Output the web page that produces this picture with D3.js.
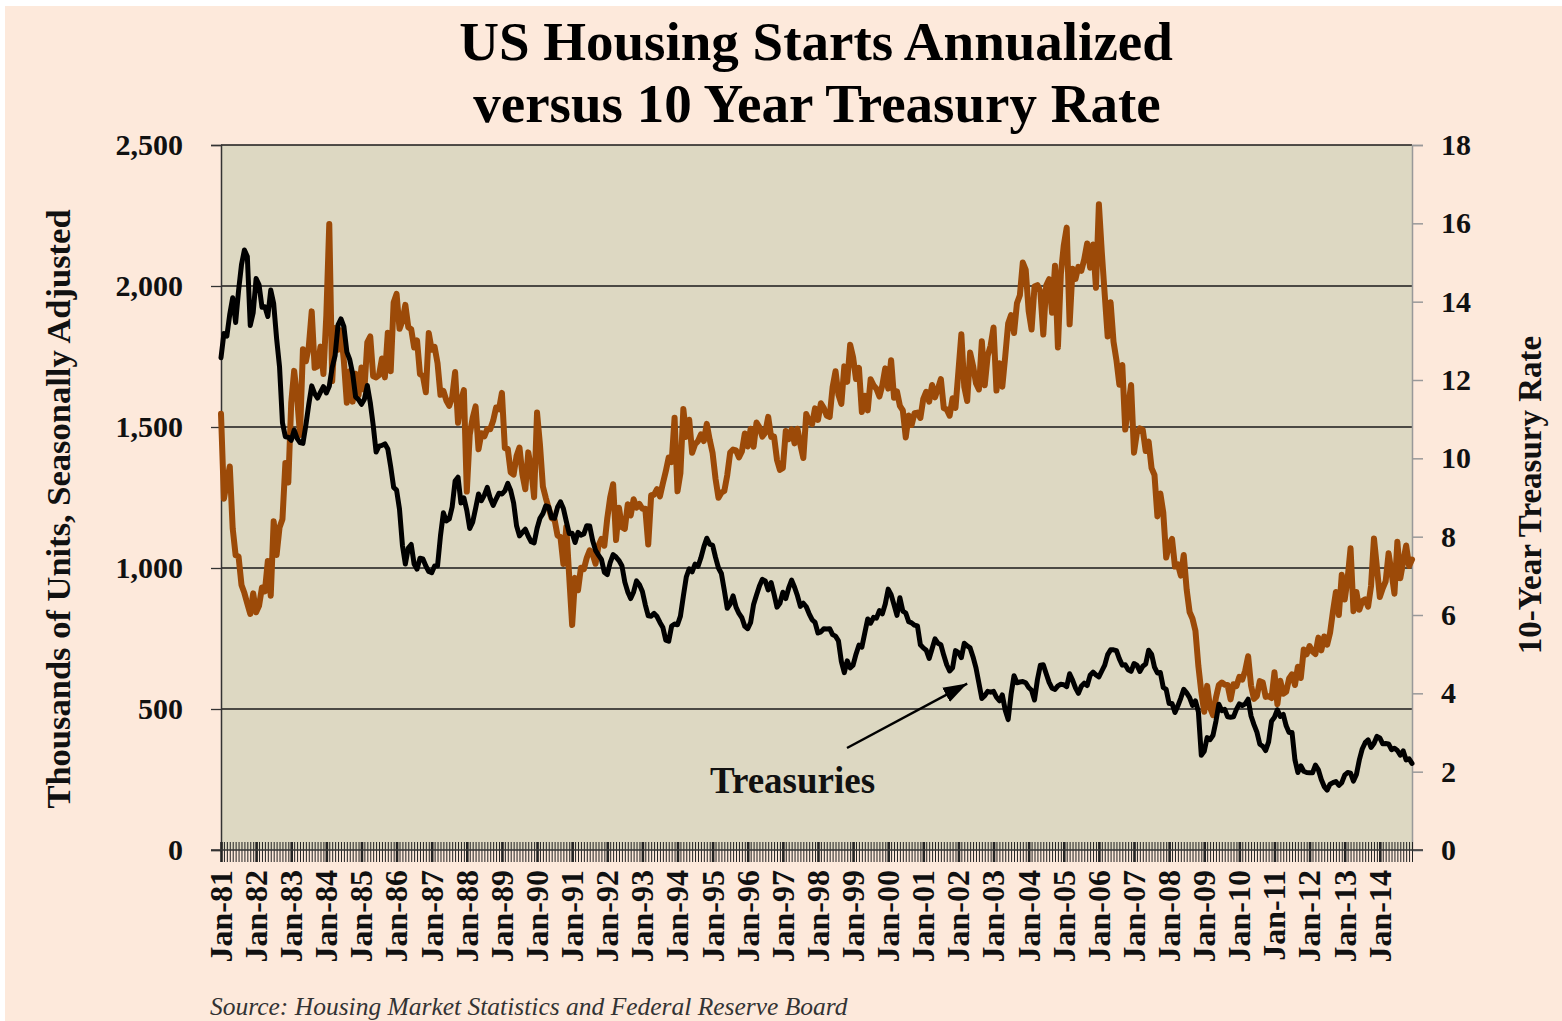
<!DOCTYPE html>
<html>
<head>
<meta charset="utf-8">
<script src="https://cdn.jsdelivr.net/npm/d3@7"></script>
<style>
    html, body { margin: 0; padding: 0; background: #ffffff; }
    svg { display: block; }
    text { font-family: "Liberation Serif", "DejaVu Serif", serif; }
</style>
</head>
<body>
<div id="vis-container"></div>
<script>
// Housing starts, thousands of units SAAR, one row per year (Jan..Dec)
const housing1981_1990 = [
    1547, 1246, 1306, 1360, 1140, 1045, 1041, 940, 911, 873, 837, 910,
    843, 866, 931, 917, 1025, 902, 1166, 1046, 1144, 1173, 1372, 1303,
    1586, 1699, 1606, 1472, 1776, 1733, 1785, 1910, 1710, 1715, 1785, 1688,
    1897, 2220, 1663, 1851, 1774, 1843, 1732, 1586, 1698, 1590, 1689, 1612,
    1711, 1632, 1800, 1821, 1680, 1676, 1684, 1743, 1676, 1834, 1698, 1942,
    1972, 1848, 1876, 1933, 1854, 1847, 1782, 1807, 1687, 1681, 1623, 1833,
    1774, 1784, 1726, 1614, 1628, 1594, 1575, 1605, 1695, 1515, 1592, 1631,
    1271, 1473, 1532, 1573, 1421, 1478, 1467, 1493, 1492, 1522, 1569, 1563,
    1621, 1425, 1422, 1339, 1331, 1397, 1427, 1332, 1279, 1410, 1351, 1251,
    1551, 1437, 1289, 1248, 1212, 1177, 1171, 1115, 1110, 1014, 1145, 969
];
const housing1991_2000 = [
    798, 965, 921, 1001, 996, 1036, 1063, 1049, 1015, 1079, 1103, 1079,
    1176, 1250, 1297, 1099, 1214, 1145, 1139, 1226, 1186, 1244, 1214, 1227,
    1210, 1210, 1083, 1258, 1260, 1280, 1254, 1300, 1343, 1392, 1376, 1533,
    1272, 1337, 1564, 1465, 1526, 1409, 1439, 1450, 1474, 1450, 1511, 1455,
    1407, 1316, 1249, 1267, 1273, 1329, 1409, 1420, 1417, 1392, 1413, 1477,
    1431, 1494, 1430, 1516, 1499, 1466, 1480, 1536, 1465, 1466, 1383, 1348,
    1355, 1486, 1457, 1492, 1442, 1494, 1437, 1390, 1546, 1520, 1510, 1566,
    1525, 1584, 1567, 1540, 1536, 1641, 1698, 1614, 1582, 1715, 1660, 1792,
    1748, 1670, 1710, 1553, 1611, 1559, 1669, 1648, 1635, 1608, 1648, 1708,
    1636, 1737, 1604, 1626, 1575, 1559, 1463, 1541, 1507, 1549, 1551, 1532
];
const housing2001_2014 = [
    1600, 1625, 1590, 1649, 1605, 1636, 1670, 1567, 1562, 1540, 1602, 1568,
    1698, 1829, 1642, 1592, 1764, 1717, 1655, 1633, 1804, 1648, 1753, 1788,
    1853, 1629, 1726, 1643, 1751, 1867, 1897, 1833, 1939, 1967, 2083, 2057,
    1911, 1846, 1998, 2003, 1981, 1828, 2002, 2024, 1905, 2072, 1782, 2042,
    2144, 2207, 1864, 2061, 2025, 2068, 2054, 2095, 2151, 2065, 2147, 1994,
    2290, 2119, 1969, 1821, 1942, 1802, 1737, 1650, 1720, 1491, 1570, 1649,
    1409, 1480, 1495, 1490, 1415, 1448, 1354, 1330, 1183, 1264, 1197, 1037,
    1084, 1103, 1005, 1013, 973, 1046, 923, 844, 820, 777, 652, 560,
    490, 582, 505, 478, 540, 585, 594, 586, 585, 534, 588, 581,
    614, 604, 636, 687, 583, 536, 546, 599, 594, 543, 545, 539,
    630, 517, 600, 554, 561, 608, 623, 585, 650, 610, 711, 694,
    723, 704, 695, 753, 708, 757, 728, 770, 847, 915, 833, 976,
    888, 962, 1070, 847, 915, 852, 883, 889, 863, 936, 1105, 1003,
    897, 928, 953, 1052, 985, 909, 1093, 964, 1022, 1080, 1007, 1030
];

// 10 year treasury rate, percent, one row per year (Jan..Dec)
const treasury1981_1990 = [
    12.57, 13.19, 13.12, 13.68, 14.10, 13.47, 14.28, 14.94, 15.32, 15.15, 13.39, 13.72,
    14.59, 14.43, 13.86, 13.87, 13.62, 14.30, 13.95, 13.06, 12.34, 10.91, 10.55, 10.54,
    10.46, 10.72, 10.51, 10.40, 10.38, 10.85, 11.38, 11.85, 11.65, 11.54, 11.69, 11.83,
    11.67, 11.84, 12.32, 12.63, 13.41, 13.56, 13.36, 12.72, 12.52, 12.16, 11.57, 11.50,
    11.38, 11.51, 11.86, 11.43, 10.85, 10.16, 10.31, 10.33, 10.37, 10.24, 9.78, 9.26,
    9.19, 8.70, 7.78, 7.30, 7.71, 7.80, 7.30, 7.17, 7.45, 7.43, 7.25, 7.11,
    7.08, 7.25, 7.25, 8.02, 8.61, 8.40, 8.45, 8.76, 9.42, 9.52, 8.86, 8.99,
    8.67, 8.21, 8.37, 8.72, 9.09, 8.92, 9.06, 9.26, 8.98, 8.80, 8.96, 9.11,
    9.09, 9.17, 9.36, 9.18, 8.86, 8.28, 8.02, 8.11, 8.19, 8.01, 7.87, 7.84,
    8.21, 8.47, 8.59, 8.79, 8.76, 8.48, 8.47, 8.75, 8.89, 8.72, 8.39, 8.08
];
const treasury1991_2000 = [
    8.09, 7.85, 8.11, 8.04, 8.07, 8.28, 8.27, 7.90, 7.65, 7.53, 7.42, 7.09,
    7.03, 7.34, 7.54, 7.48, 7.39, 7.26, 6.84, 6.59, 6.42, 6.59, 6.87, 6.77,
    6.60, 6.26, 5.98, 5.97, 6.04, 5.96, 5.81, 5.68, 5.36, 5.33, 5.72, 5.77,
    5.75, 5.97, 6.48, 6.97, 7.18, 7.10, 7.30, 7.24, 7.46, 7.74, 7.96, 7.81,
    7.78, 7.47, 7.20, 7.06, 6.63, 6.17, 6.28, 6.49, 6.20, 6.04, 5.93, 5.71,
    5.65, 5.81, 6.27, 6.51, 6.74, 6.91, 6.87, 6.64, 6.83, 6.53, 6.20, 6.30,
    6.58, 6.42, 6.69, 6.89, 6.71, 6.49, 6.22, 6.30, 6.21, 6.03, 5.88, 5.81,
    5.54, 5.57, 5.65, 5.64, 5.65, 5.50, 5.46, 5.34, 4.81, 4.53, 4.83, 4.65,
    4.72, 5.00, 5.23, 5.18, 5.54, 5.90, 5.79, 5.94, 5.92, 6.11, 6.03, 6.28,
    6.66, 6.52, 6.26, 5.99, 6.44, 6.10, 6.05, 5.83, 5.80, 5.74, 5.72, 5.24
];
const treasury2001_2014 = [
    5.16, 5.10, 4.89, 5.14, 5.39, 5.28, 5.24, 4.97, 4.73, 4.57, 4.65, 5.09,
    5.04, 4.91, 5.28, 5.21, 5.16, 4.93, 4.65, 4.26, 3.87, 3.94, 4.05, 4.03,
    4.05, 3.90, 3.81, 3.96, 3.57, 3.33, 3.98, 4.45, 4.27, 4.29, 4.30, 4.27,
    4.15, 4.08, 3.83, 4.35, 4.72, 4.73, 4.50, 4.28, 4.13, 4.10, 4.19, 4.23,
    4.22, 4.17, 4.50, 4.34, 4.14, 4.00, 4.18, 4.26, 4.20, 4.46, 4.54, 4.47,
    4.42, 4.57, 4.72, 4.99, 5.11, 5.11, 5.09, 4.88, 4.72, 4.73, 4.60, 4.56,
    4.76, 4.72, 4.56, 4.69, 4.75, 5.10, 5.00, 4.67, 4.52, 4.53, 4.15, 4.10,
    3.74, 3.74, 3.51, 3.68, 3.88, 4.10, 4.01, 3.89, 3.69, 3.81, 3.53, 2.42,
    2.52, 2.87, 2.82, 2.93, 3.29, 3.72, 3.56, 3.59, 3.40, 3.39, 3.40, 3.59,
    3.73, 3.69, 3.73, 3.85, 3.42, 3.20, 3.01, 2.70, 2.65, 2.54, 2.76, 3.29,
    3.39, 3.58, 3.41, 3.46, 3.17, 3.00, 3.00, 2.30, 1.98, 2.15, 2.01, 1.98,
    1.97, 1.97, 2.17, 2.05, 1.80, 1.62, 1.53, 1.68, 1.72, 1.75, 1.65, 1.72,
    1.91, 1.98, 1.96, 1.76, 1.93, 2.30, 2.58, 2.74, 2.81, 2.62, 2.72, 2.90,
    2.86, 2.71, 2.72, 2.71, 2.56, 2.60, 2.54, 2.42, 2.53, 2.30, 2.33, 2.21
];

// Year labels on the x-axis, one per January
const yearLabels = [
    "Jan-81", "Jan-82", "Jan-83", "Jan-84", "Jan-85", "Jan-86", "Jan-87", "Jan-88",
    "Jan-89", "Jan-90", "Jan-91", "Jan-92", "Jan-93", "Jan-94", "Jan-95", "Jan-96",
    "Jan-97", "Jan-98", "Jan-99", "Jan-00", "Jan-01", "Jan-02", "Jan-03", "Jan-04",
    "Jan-05", "Jan-06", "Jan-07", "Jan-08", "Jan-09", "Jan-10", "Jan-11", "Jan-12",
    "Jan-13", "Jan-14"
];

const leftTicks = [0, 500, 1000, 1500, 2000, 2500];
const rightTicks = [0, 2, 4, 6, 8, 10, 12, 14, 16, 18];

function main()
{
    const housing = housing1981_1990.concat(housing1991_2000, housing2001_2014);
    const treasury = treasury1981_1990.concat(treasury1991_2000, treasury2001_2014);
    const months = d3.range(housing.length);

    // Plot area box
    const plot = { left: 221, right: 1412, top: 145, bottom: 850 };

    const svg = d3.select("#vis-container")
        .append("svg")
        .attr("width", 1562)
        .attr("height", 1021);

    // Page background
    svg.append("rect")
        .attr("x", 5).attr("y", 6)
        .attr("width", 1557).attr("height", 1015)
        .attr("fill", "#fde9db");

    // Scales
    const xScale = d3.scaleLinear()
        .domain([0, months.length - 1])
        .range([plot.left, plot.right]);
    const yLeft = d3.scaleLinear().domain([0, 2500]).range([plot.bottom, plot.top]);
    const yRight = d3.scaleLinear().domain([0, 18]).range([plot.bottom, plot.top]);

    // Plot background
    svg.append("rect")
        .attr("x", plot.left).attr("y", plot.top)
        .attr("width", plot.right - plot.left)
        .attr("height", plot.bottom - plot.top)
        .attr("fill", "#ddd8c2");

    // Gridlines
    svg.append("g")
        .selectAll("line")
        .data(leftTicks.slice(1))
        .enter()
        .append("line")
        .attr("x1", plot.left).attr("x2", plot.right)
        .attr("y1", d => yLeft(d)).attr("y2", d => yLeft(d))
        .attr("stroke", "#1a1a1a")
        .attr("stroke-width", 1.3);

    // Left axis
    const leftAxis = svg.append("g")
        .attr("transform", `translate(${plot.left}, 0)`)
        .call(d3.axisLeft(yLeft).tickValues(leftTicks).tickFormat(d3.format(",")).tickSize(10).tickPadding(28));
    leftAxis.select(".domain").attr("stroke", "#333").attr("stroke-width", 1.5);
    leftAxis.selectAll(".tick line").attr("stroke", "#333").attr("stroke-width", 1.3);
    leftAxis.selectAll("text")
        .attr("font-size", 30)
        .attr("font-weight", "bold")
        .attr("fill", "#111")
        .style("font-family", "'Liberation Serif', serif");

    // Right axis
    const rightAxis = svg.append("g")
        .attr("transform", `translate(${plot.right}, 0)`)
        .call(d3.axisRight(yRight).tickValues(rightTicks).tickSize(11).tickPadding(18));
    rightAxis.select(".domain").attr("stroke", "#999").attr("stroke-width", 1.5);
    rightAxis.selectAll(".tick line").attr("stroke", "#999").attr("stroke-width", 1.5);
    rightAxis.selectAll("text")
        .attr("font-size", 30)
        .attr("font-weight", "bold")
        .attr("fill", "#111")
        .style("font-family", "'Liberation Serif', serif");

    // Monthly tick marks crossing the x-axis
    const monthTicks = svg.append("g")
        .attr("transform", `translate(0, ${plot.bottom - 8})`)
        .call(d3.axisBottom(xScale).tickValues(months).tickSize(20).tickFormat(""));
    monthTicks.select(".domain").remove();
    monthTicks.selectAll(".tick line")
        .attr("stroke", "#222")
        .attr("stroke-width", d => d % 12 === 0 ? 2.6 : 1);

    // x-axis line
    svg.append("line")
        .attr("x1", plot.left - 10).attr("x2", plot.right + 11)
        .attr("y1", plot.bottom).attr("y2", plot.bottom)
        .attr("stroke", "#333")
        .attr("stroke-width", 1.5);

    // Year labels
    svg.append("g")
        .selectAll("text")
        .data(yearLabels)
        .enter()
        .append("text")
        .attr("transform", (_, i) => `translate(${xScale(i * 12)}, 870) rotate(-90)`)
        .attr("text-anchor", "end")
        .attr("dy", "0.34em")
        .attr("font-size", 32)
        .attr("font-weight", "bold")
        .attr("fill", "#111")
        .text(d => d);

    // Lines
    const housingLine = d3.line()
        .x((_, i) => xScale(i))
        .y(d => yLeft(d));
    const treasuryLine = d3.line()
        .x((_, i) => xScale(i))
        .y(d => yRight(d));

    svg.append("path")
        .datum(housing)
        .attr("d", housingLine)
        .attr("fill", "none")
        .attr("stroke", "#9c4a08")
        .attr("stroke-width", 6)
        .attr("stroke-linejoin", "round")
        .attr("stroke-linecap", "round");

    svg.append("path")
        .datum(treasury)
        .attr("d", treasuryLine)
        .attr("fill", "none")
        .attr("stroke", "#000")
        .attr("stroke-width", 5)
        .attr("stroke-linejoin", "round")
        .attr("stroke-linecap", "round");

    // Title
    const title = svg.append("text")
        .attr("text-anchor", "middle")
        .attr("font-size", 55)
        .attr("font-weight", "bold")
        .attr("fill", "#000");
    title.append("tspan").attr("x", 816).attr("y", 60).text("US Housing Starts Annualized");
    title.append("tspan").attr("x", 817).attr("y", 122).text("versus 10 Year Treasury Rate");

    // Axis titles
    svg.append("text")
        .attr("transform", "translate(58, 509) rotate(-90)")
        .attr("text-anchor", "middle")
        .attr("dy", "0.35em")
        .attr("font-size", 34.5)
        .attr("font-weight", "bold")
        .attr("fill", "#111")
        .text("Thousands of Units, Seasonally Adjusted");

    svg.append("text")
        .attr("transform", "translate(1529, 495) rotate(-90)")
        .attr("text-anchor", "middle")
        .attr("dy", "0.35em")
        .attr("font-size", 33)
        .attr("font-weight", "bold")
        .attr("fill", "#111")
        .text("10-Year Treasury Rate");

    // Annotation with arrow pointing at the treasury line
    svg.append("defs")
        .append("marker")
        .attr("id", "arrow")
        .attr("markerUnits", "userSpaceOnUse")
        .attr("markerWidth", 26).attr("markerHeight", 20)
        .attr("refX", 24).attr("refY", 10)
        .attr("orient", "auto")
        .append("path")
        .attr("d", "M0,2 L24,10 L0,18 Z")
        .attr("fill", "#000");

    const arrowTip = { x: xScale(255), y: yRight(4.25) };
    svg.append("line")
        .attr("x1", 847).attr("y1", 748)
        .attr("x2", arrowTip.x).attr("y2", arrowTip.y)
        .attr("stroke", "#000")
        .attr("stroke-width", 2.5)
        .attr("marker-end", "url(#arrow)");

    svg.append("text")
        .attr("x", 710).attr("y", 793)
        .attr("font-size", 37)
        .attr("font-weight", "bold")
        .attr("fill", "#111")
        .text("Treasuries");

    // Source note
    svg.append("text")
        .attr("x", 210).attr("y", 1015)
        .attr("font-size", 25.5)
        .attr("font-style", "italic")
        .attr("fill", "#333")
        .text("Source: Housing Market Statistics and Federal Reserve Board");
}

document.addEventListener("DOMContentLoaded", main);
</script>
</body>
</html>
